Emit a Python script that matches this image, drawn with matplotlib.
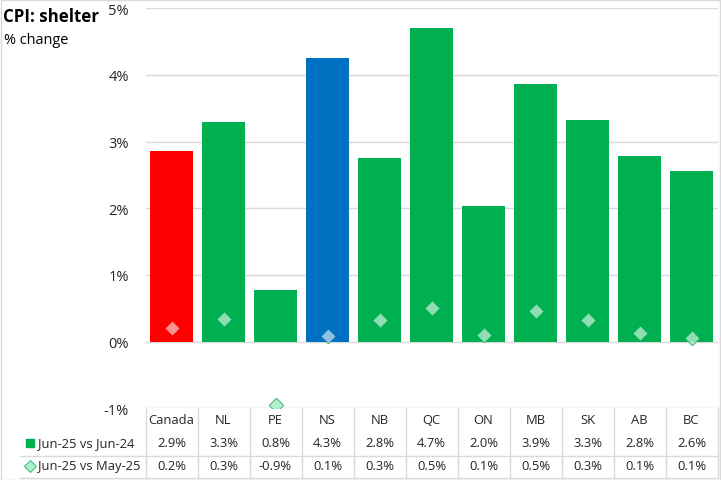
import matplotlib
matplotlib.use("Agg")
import matplotlib.pyplot as plt
from matplotlib.patches import Rectangle
from matplotlib.lines import Line2D
import matplotlib.transforms as mtransforms

categories = ["Canada", "NL", "PE", "NS", "NB", "QC", "ON", "MB", "SK", "AB", "BC"]
yoy = [2.86, 3.30, 0.78, 4.26, 2.76, 4.70, 2.04, 3.87, 3.33, 2.79, 2.56]
mom = [0.20, 0.34, -0.95, 0.09, 0.32, 0.51, 0.10, 0.46, 0.33, 0.13, 0.06]
series_names = ["Jun-25 vs Jun-24", "Jun-25 vs May-25"]
yticks = [-1, 0, 1, 2, 3, 4, 5]

GREEN = "#00B050"
RED = "#FF0000"
BLUE = "#0070C0"
bar_colors = [RED, GREEN, GREEN, BLUE, GREEN, GREEN, GREEN, GREEN, GREEN, GREEN, GREEN]
TXT = "#262626"
GRID = "#D9D9D9"
FONT = "Open Sans"

plt.rcParams["font.family"] = [FONT, "DejaVu Sans"]

W, H = 721, 481
fig = plt.figure(figsize=(W / 100, H / 100), dpi=100)
renderer = fig.canvas.get_renderer()

def fit(t, target_px):
    bb = t.get_window_extent(renderer=renderer)
    t.set_fontsize(t.get_fontsize() * target_px / bb.width)
    return t

ax_l, ax_r = 145.5, 717.5
ax_t, ax_b = 9.3, 409.3
ax = fig.add_axes([ax_l / W, 1 - ax_b / H, (ax_r - ax_l) / W, (ax_b - ax_t) / H])

x = list(range(len(categories)))
ax.bar(x, yoy, width=0.83, color=bar_colors, zorder=2)
# base diamond (visible only where not covered by a bar)
ax.plot(x, mom, linestyle="none", marker="D", markersize=7,
        markerfacecolor="#50D890", markeredgecolor="#2EA860",
        markeredgewidth=1.0, zorder=1.5)
# translucent highlight diamond on top
ax.plot(x, mom, linestyle="none", marker="D", markersize=7,
        markerfacecolor=(0.97, 1, 0.98, 0.58), markeredgecolor="none", zorder=3)

ax.set_xlim(-0.5, len(categories) - 0.5)
ax.set_ylim(yticks[0], yticks[-1])
ax.set_yticks(yticks)
ax.set_yticklabels([f"{v}%" for v in yticks])
ax.tick_params(axis="y", length=0, pad=12, labelsize=10.5, labelcolor=TXT)
ax.set_xticks([])
for s in ax.spines.values():
    s.set_visible(False)
ax.grid(axis="y", color=GRID, linewidth=1.0, zorder=0)
ax.set_axisbelow(True)

# title
fit(fig.text(3 / W, 1 - 17 / H, "CPI: shelter", fontsize=13, fontweight="bold",
             color="#000000", va="center", ha="left"), 95)
fit(fig.text(4 / W, 1 - 40 / H, "% change", fontsize=11, color="#000000",
             va="center", ha="left"), 65)

# data table
trans = mtransforms.blended_transform_factory(ax.transData, ax.transAxes)
ph = ax_b - ax_t
def ya(py):
    return (ax_b - py) / ph
def xa(px):
    return (px - ax_l) / (ax_r - ax_l)

probe = ax.text(0, 0, categories[0], fontsize=10.5)
bb = probe.get_window_extent(renderer=renderer)
tsize = 10.5 * 46 / bb.width
probe.remove()

y_head, y_r1, y_r2 = ya(421), ya(444), ya(467)
y_sep, y_bot = ya(456.5), ya(478.5)
for i, c in enumerate(categories):
    ax.text(i, y_head, c, transform=trans, ha="center", va="center",
            fontsize=tsize, color=TXT, clip_on=False)
    ax.text(i, y_r1, f"{yoy[i]:.1f}%", transform=trans, ha="center", va="center",
            fontsize=tsize, color=TXT, clip_on=False)
    ax.text(i, y_r2, f"{mom[i]:.1f}%", transform=trans, ha="center", va="center",
            fontsize=tsize, color=TXT, clip_on=False)
for i in range(len(categories) + 1):
    ax.add_line(Line2D([i - 0.5, i - 0.5], [0, y_bot], transform=trans, color=GRID,
                       linewidth=1.0, clip_on=False))
ax.add_line(Line2D([xa(20), 1], [y_sep, y_sep], transform=ax.transAxes, color=GRID,
                   linewidth=1.0, clip_on=False))
ax.add_line(Line2D([xa(20), 1], [y_bot, y_bot], transform=ax.transAxes, color=GRID,
                   linewidth=1.0, clip_on=False))

# row labels with legend keys
ax.add_line(Line2D([xa(30)], [y_r1], transform=ax.transAxes, marker="s", markersize=5.5,
                   markerfacecolor=GREEN, markeredgecolor=GREEN, clip_on=False))
ax.add_line(Line2D([xa(30)], [y_r2], transform=ax.transAxes, marker="D", markersize=6,
                   markerfacecolor="#A8F0C8", markeredgecolor="#3CB371",
                   markeredgewidth=0.7, clip_on=False))
t1 = ax.text(xa(38), y_r1, series_names[0], transform=ax.transAxes, ha="left", va="center",
             fontsize=11, color=TXT, clip_on=False)
t2 = ax.text(xa(38), y_r2, series_names[1], transform=ax.transAxes, ha="left", va="center",
             fontsize=11, color=TXT, clip_on=False)
bb2 = t2.get_window_extent(renderer=renderer)
rs = 11 * 102 / bb2.width
t1.set_fontsize(rs)
t2.set_fontsize(rs)

# outer frame
fig.patches.append(Rectangle((0.5 / W, 0.5 / H), (W - 1.5) / W, (H - 1.5) / H,
                             transform=fig.transFigure, fill=False,
                             edgecolor=GRID, linewidth=1.0))

fig.savefig("out.png", dpi=100)
